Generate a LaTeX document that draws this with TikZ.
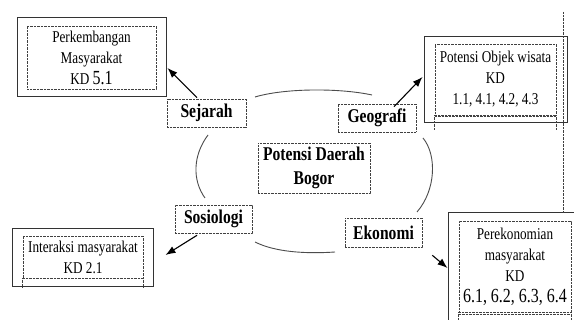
\documentclass[tikz,border=0pt]{standalone}
\usepackage{fontspec}
\setmainfont[FakeStretch=0.8]{Liberation Serif}
\usetikzlibrary{arrows.meta,calc}
\begin{document}
\begin{tikzpicture}[x=1pt,y=-1pt,
 outerbox/.style={draw=black!80, line width=1pt, inner sep=0pt},
 dotbox/.style={draw=black!75, line width=0.6pt, dash pattern=on 0.7pt off 0.7pt, inner sep=0pt, align=center},
 dotline/.style={draw=black!75, line width=0.6pt, dash pattern=on 0.7pt off 0.7pt},
 lbl/.style={dotbox, font=\fontsize{19.5}{24.5}\selectfont\bfseries},
 body/.style={font=\fontsize{16.5}{21}\selectfont},
 arr/.style={-{Latex[length=10pt,width=7.5pt]}, line width=1.1pt},
 arcline/.style={draw=black!70, line width=0.9pt}]
\useasboundingbox (0,0) rectangle (574,320);
\clip (0,0) rectangle (574,320);
\fill[white] (0,0) rectangle (574,320);

% outer boxes
\node[outerbox, minimum width=149pt, minimum height=79pt] (tl) at (91.5,57.5) {};
\node[outerbox, minimum width=143pt, minimum height=86pt] (tr) at (495.5,80) {};
\node[outerbox, minimum width=141pt, minimum height=58pt] (bl) at (82.5,258) {};
\node[outerbox, minimum width=140pt, minimum height=117pt] (br) at (518,271.5) {};

% inner dotted boxes with text
\node[dotbox, body, minimum width=129pt, minimum height=63pt] (tlin) at (91.5,57.5)
  {Perkembangan\\Masyarakat\\KD {\fontsize{20}{21}\selectfont 5.1}};
\node[dotbox, body, minimum width=121pt, minimum height=71pt] (trin) at (495.5,79.5)
  {Potensi Objek wisata\\KD\\1.1, 4.1, 4.2, 4.3};
\node[dotbox, body, minimum width=120pt, minimum height=42pt] (blin) at (83,257)
  {Interaksi masyarakat\\KD 2.1};
\node[dotbox, body, minimum width=112pt, minimum height=91pt] (brin) at (515,266.5)
  {Perekonomian\\masyarakat\\KD\\{\fontsize{20}{22}\selectfont 6.1, 6.2, 6.3, 6.4}};

% extra dotted guide lines
\draw[dotline] (trin.south west) -- ++(0,15);
\draw[dotline] (trin.south east) -- ++(0,15);
\draw[dotline] ($(trin.south west)+(0,1.5)$) -- ($(trin.south east)+(0,1.5)$);
\draw[dotline] (563,12) -- (563,213);
\draw[dotline] (blin.south west) -- ++(0,9);
\draw[dotline] (blin.south east) -- ++(0,9);
\draw[dotline] (brin.south west) -- ++(0,12);
\draw[dotline] (brin.south east) -- ++(0,12);
\draw[dotline] ($(brin.south west)+(0,2.5)$) -- ($(brin.south east)+(0,2.5)$);

% labels
\node[lbl, minimum width=79pt, minimum height=28pt] (sej) at (206.5,113) {Sejarah};
\node[lbl, minimum width=78pt, minimum height=28pt] (geo) at (377,118) {Geografi};
\node[lbl, minimum width=77pt, minimum height=28pt] (sos) at (213.5,219) {Sosiologi};
\node[lbl, minimum width=77pt, minimum height=29pt] (eko) at (383.5,232.5) {Ekonomi};
\node[lbl, minimum width=112pt, minimum height=50pt] (pot) at (314,168) {Potensi Daerah\\Bogor};

% ellipse arcs
\draw[arcline] (255,97) .. controls (285,88) and (340,88) .. (372,95);
\draw[arcline] (208,135) .. controls (193,155) and (192,180) .. (205,198);
\draw[arcline] (255,242) .. controls (275,252) and (305,254) .. (335,252);
\draw[arcline] (423,138) .. controls (437,155) and (436,190) .. (417,212);

% arrows
\draw[arr] ($(sej.north)+(-9.5,-1)$) -- ($(tl.east)+(1,10.5)$);
\draw[arr] ($(geo.north)+(17,3)$) -- ($(tr.west)+(-1,-3)$);
\draw[arr] ($(sos.south)+(-16.5,2)$) -- ($(bl.east)+(12,-3)$);
\draw[arr] ($(eko.south east)+(10,8)$) -- ($(br.west)+(0,-3.5)$);
\end{tikzpicture}
\end{document}
